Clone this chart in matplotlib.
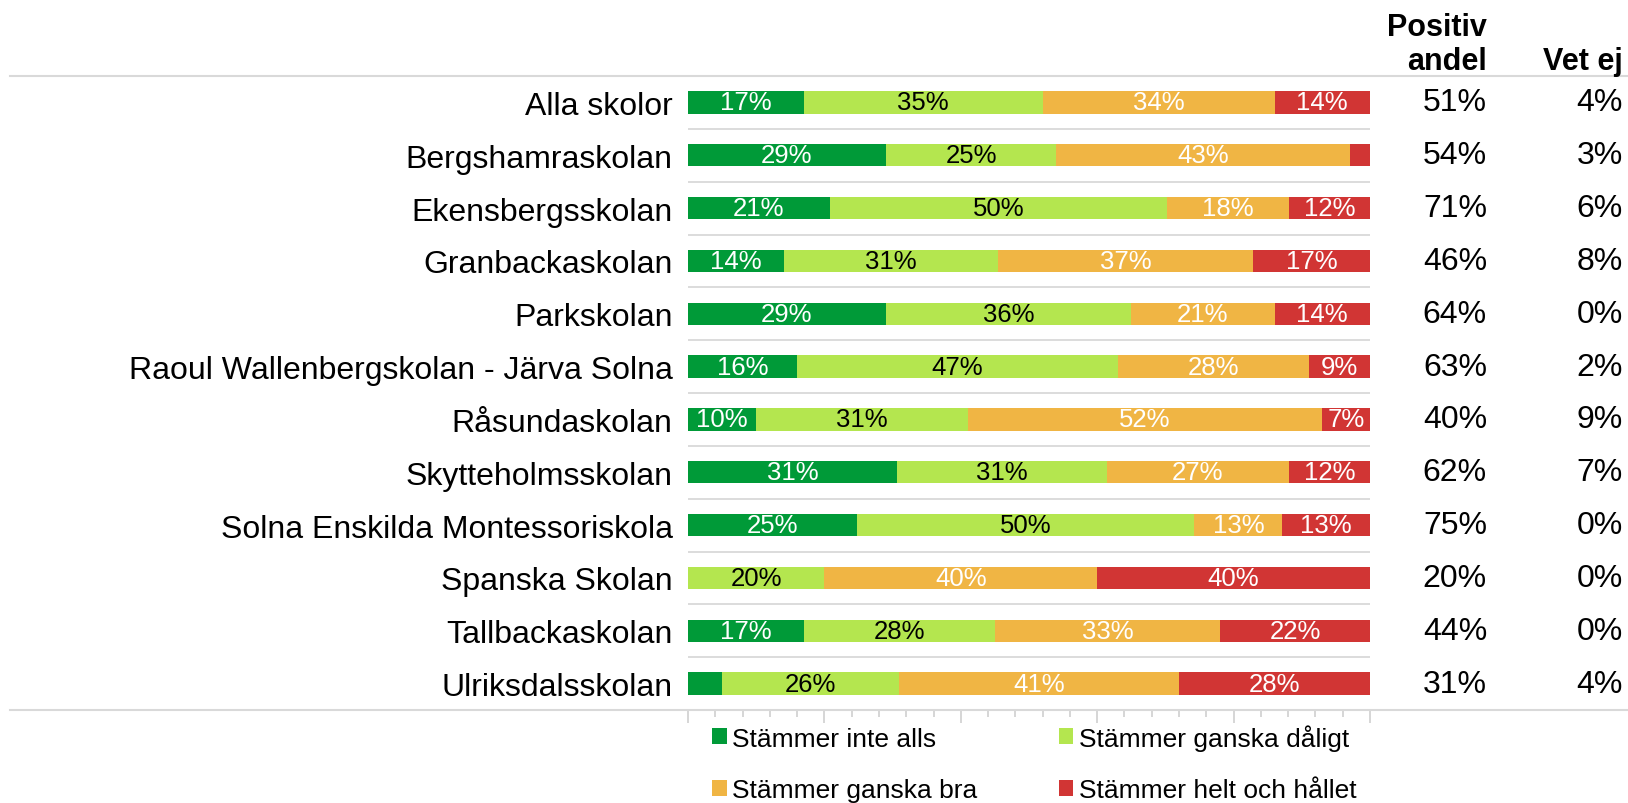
import numpy as np
import matplotlib.pyplot as plt
from matplotlib.lines import Line2D
from matplotlib.ticker import MultipleLocator
from matplotlib.transforms import blended_transform_factory

plt.rcParams['font.family'] = ['Liberation Sans', 'DejaVu Sans']

schools = [
    "Alla skolor", "Bergshamraskolan", "Ekensbergsskolan", "Granbackaskolan",
    "Parkskolan", "Raoul Wallenbergskolan - Järva Solna", "Råsundaskolan",
    "Skytteholmsskolan", "Solna Enskilda Montessoriskola", "Spanska Skolan",
    "Tallbackaskolan", "Ulriksdalsskolan",
]
inte_alls = [17, 29, 21, 14, 29, 16, 10, 31, 25, 0, 17, 5]
ganska_daligt = [35, 25, 50, 31, 36, 47, 31, 31, 50, 20, 28, 26]
ganska_bra = [34, 43, 18, 37, 21, 28, 52, 27, 13, 40, 33, 41]
helt_och_hallet = [14, 3, 12, 17, 14, 9, 7, 12, 13, 40, 22, 28]
positiv_andel = [51, 54, 71, 46, 64, 63, 40, 62, 75, 20, 44, 31]
vet_ej = [4, 3, 6, 8, 0, 2, 9, 7, 0, 0, 0, 4]

series = [
    ("Stämmer inte alls", inte_alls, "#009a38", "white"),
    ("Stämmer ganska dåligt", ganska_daligt, "#b4e64f", "black"),
    ("Stämmer ganska bra", ganska_bra, "#f0b544", "white"),
    ("Stämmer helt och hållet", helt_och_hallet, "#d13534", "white"),
]

W, H = 1628, 804
fig = plt.figure(figsize=(W / 100, H / 100), dpi=100)
ax = fig.add_axes([688 / W, 1 - 711 / H, (1370 - 688) / W, (711 - 77) / H])

n = len(schools)
y = np.arange(n)
totals = np.sum([s[1] for s in series], axis=0)
left = np.zeros(n)
handles = {}
for label, vals, color, txtc in series:
    w = np.array(vals) / totals * 100
    handles[label] = ax.barh(y, w, left=left, height=0.42, color=color, label=label)
    for yi in range(n):
        if vals[yi] >= 7:
            ax.text(left[yi] + w[yi] / 2, yi, f"{vals[yi]}%", ha='center', va='center',
                    color=txtc, fontsize=18.5)
    left += w

ax.set_xlim(0, 100)
ax.set_ylim(n - 0.5, -0.5)

# row separators inside the bar area
ax.hlines(y[:-1] + 0.5, 0, 100, color='#d9d9d9', lw=1.3)

for s in ['top', 'right', 'left', 'bottom']:
    ax.spines[s].set_visible(False)
ax.set_yticks(y, schools, fontsize=23)
ax.tick_params(axis='y', length=0, pad=11)
ax.xaxis.set_major_locator(MultipleLocator(20))
ax.xaxis.set_minor_locator(MultipleLocator(4))
ax.tick_params(axis='x', which='major', length=9, width=1.2, color='#d0d0d0', labelbottom=False)
ax.tick_params(axis='x', which='minor', length=5, width=1.2, color='#d0d0d0')

# full width lines at top and bottom
fig.add_artist(Line2D([10 / W, 1], [1 - 77 / H] * 2, color='#d9d9d9', lw=1.5))
fig.add_artist(Line2D([10 / W, 1], [1 - 711 / H] * 2, color='#d9d9d9', lw=1.5))

# right-hand columns
trans = blended_transform_factory(fig.transFigure, ax.transData)
for yi in range(n):
    ax.text(1487 / W, yi, f"{positiv_andel[yi]}%", ha='right', va='center',
            fontsize=23, transform=trans)
    ax.text(1623 / W, yi, f"{vet_ej[yi]}%", ha='right', va='center',
            fontsize=23, transform=trans)

fig.text(1487 / W, 1 - 36 / H, "Positiv", ha='right', va='baseline', fontsize=22, fontweight='bold')
fig.text(1487 / W, 1 - 70 / H, "andel", ha='right', va='baseline', fontsize=22, fontweight='bold')
fig.text(1623 / W, 1 - 70 / H, "Vet ej", ha='right', va='baseline', fontsize=22, fontweight='bold')

order = ["Stämmer inte alls", "Stämmer ganska bra", "Stämmer ganska dåligt", "Stämmer helt och hållet"]
fig.legend([handles[k] for k in order], order, loc='upper left',
           bbox_to_anchor=(712 / W, 1 - 725 / H), ncol=2, frameon=False, fontsize=19,
           handlelength=0.55, handleheight=0.55, handletextpad=0.2, columnspacing=3.1,
           labelspacing=1.05, borderaxespad=0, borderpad=0)

fig.savefig("out.png", dpi=100)
